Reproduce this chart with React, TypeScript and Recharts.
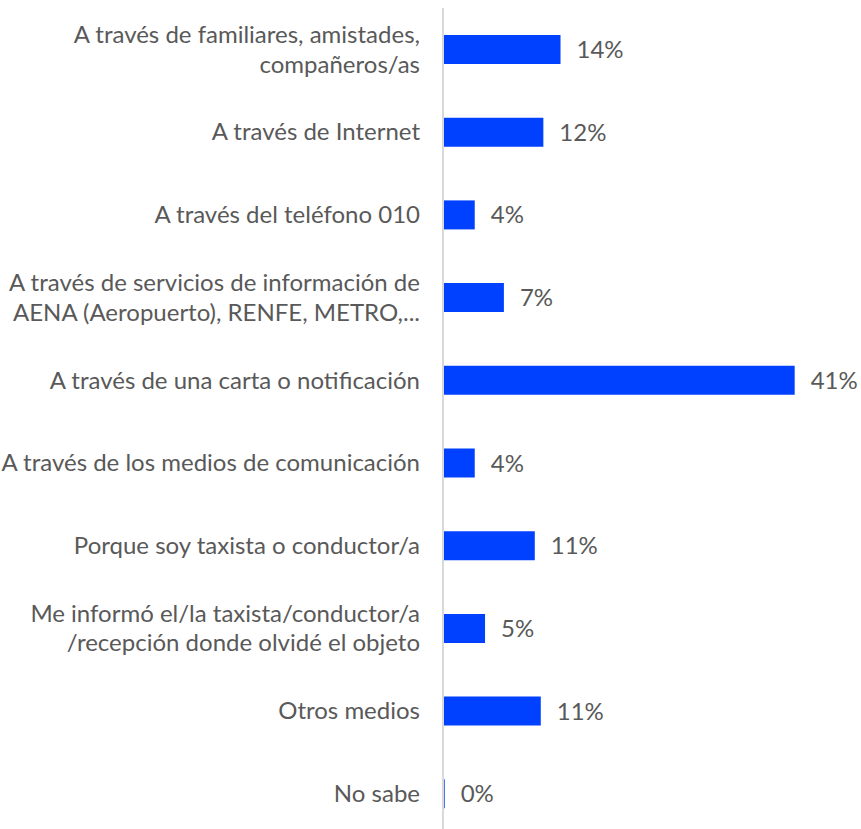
import { BarChart, Bar, XAxis, YAxis, LabelList } from 'recharts';

const categories = [
  'A través de familiares, amistades,\ncompañeros/as',
  'A través de Internet',
  'A través del teléfono 010',
  'A través de servicios de información de\nAENA (Aeropuerto), RENFE, METRO,...',
  'A través de una carta o notificación',
  'A través de los medios de comunicación',
  'Porque soy taxista o conductor/a',
  'Me informó el/la taxista/conductor/a\n/recepción donde olvidé el objeto',
  'Otros medios',
  'No sabe',
];

const values = [13.7, 11.7, 3.7, 7.1, 41.0, 3.7, 10.7, 4.9, 11.4, 0.2];

const data = categories.map((name, i) => ({ name, value: values[i] }));

const FONT = 'Lato, "Open Sans", sans-serif';
const TEXT = '#595959';

function CategoryTick({ x, y, payload }: any) {
  const lines = String(payload.value).split('\n');
  const lineH = 29.5;
  const start = -((lines.length - 1) * lineH) / 2;
  return (
    <text
      x={x - 15}
      y={y}
      textAnchor="end"
      fill={TEXT}
      fontSize={24}
      fontFamily={FONT}
    >
      {lines.map((l, i) => (
        <tspan key={i} x={x - 15} y={y + start + i * lineH} dy="0.35em">
          {l}
        </tspan>
      ))}
    </text>
  );
}

export default function App() {
  return (
    <div
      style={{
        position: 'absolute',
        left: 0,
        top: 0,
        width: 861,
        height: 829,
        overflow: 'hidden',
        background: '#fff',
      }}
    >
      <BarChart
        width={861}
        height={843}
        data={data}
        layout="vertical"
        margin={{ top: 8, right: 32, left: 0, bottom: 8 }}
      >
        <XAxis type="number" domain={[0, 45]} hide />
        <YAxis
          type="category"
          dataKey="name"
          width={443}
          tickLine={false}
          axisLine={{ stroke: '#d9d9d9', strokeWidth: 2 }}
          tick={<CategoryTick />}
          interval={0}
        />
        <Bar dataKey="value" fill="#0040ff" barSize={29} isAnimationActive={false}>
          <LabelList
            dataKey="value"
            position="right"
            offset={16}
            fill={TEXT}
            fontSize={24}
            fontFamily={FONT}
            formatter={(v: any) => `${Math.round(Number(v))}%`}
          />
        </Bar>
      </BarChart>
    </div>
  );
}
